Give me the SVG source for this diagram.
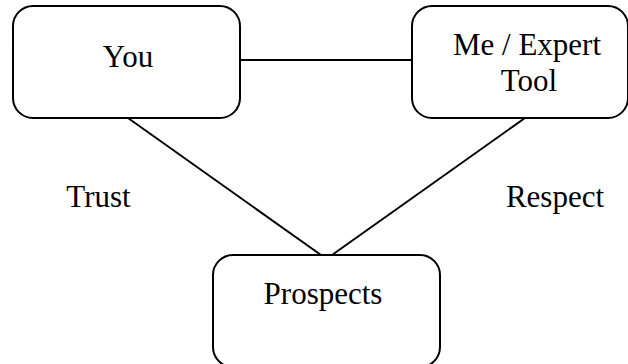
<svg xmlns="http://www.w3.org/2000/svg" width="628" height="364" viewBox="0 0 628 364">
<style>
.box{fill:#fff;stroke:#000;stroke-width:2}
.ln{stroke:#000;stroke-width:2;fill:none}
text{font-family:"Liberation Serif","Times New Roman",serif;font-size:31px;fill:#000;text-anchor:middle}
</style>
<rect width="628" height="364" fill="#fff"/>
<g id="connectors">
<line class="ln" x1="240" y1="60" x2="412" y2="60"/>
<line class="ln" x1="128" y1="118" x2="321" y2="255"/>
<line class="ln" x1="525" y1="118" x2="332" y2="255"/>
</g>
<g id="you">
<rect class="box" x="13" y="6" width="227" height="112" rx="20"/>
<text x="128" y="67">You</text>
</g>
<g id="expert">
<rect class="box" x="412" y="6" width="216" height="112" rx="20"/>
<text x="527" y="55">Me / Expert</text>
<text x="529" y="91">Tool</text>
</g>
<g id="prospects">
<rect class="box" x="213" y="255" width="227" height="112" rx="20"/>
<text x="323" y="304">Prospects</text>
</g>
<g id="labels">
<text x="98.5" y="207">Trust</text>
<text x="555" y="207">Respect</text>
</g>
</svg>
